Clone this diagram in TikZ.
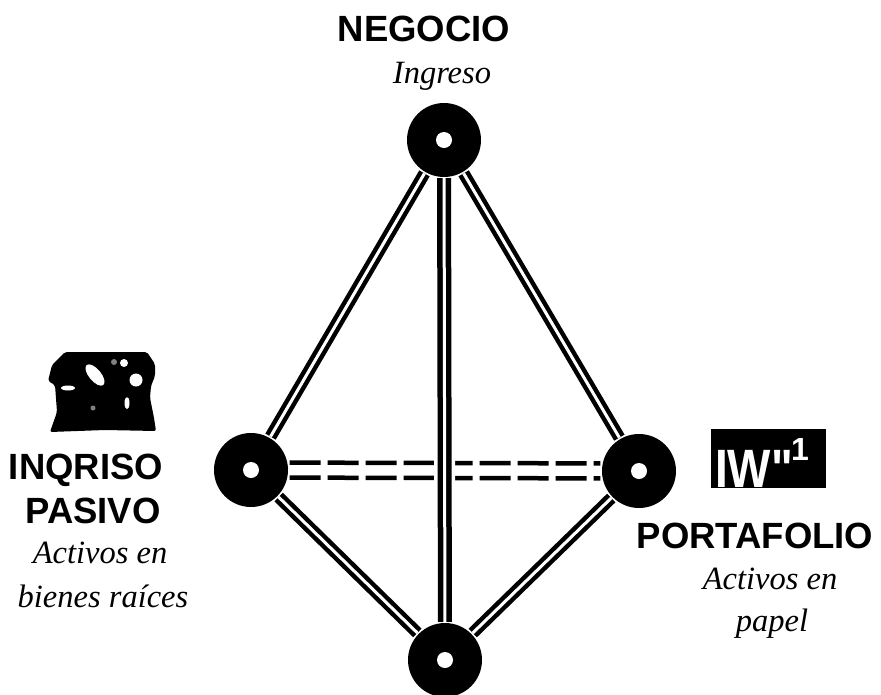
\documentclass[tikz,border=0pt]{standalone}
\usepackage{fontspec}
\setmainfont{Liberation Serif}
\newfontfamily\arialf{Liberation Sans}
\tikzset{
  hub/.style={circle,fill=black,minimum size=74pt,inner sep=0pt},
  hole/.style={fill=white},
  pairdiag/.style={draw=black,line width=4.5pt,double=white,double distance=3pt,shorten <=1.5pt,shorten >=1.5pt},
  pairvert/.style={draw=black,line width=5.5pt,double=white,double distance=3pt,shorten <=1pt,shorten >=1pt},
  halo/.style={draw=white,line width=21pt},
  dashline/.style={draw=black,line width=4.5pt,dash pattern=on 31pt off 7pt,shorten <=1.5pt,shorten >=1.5pt},
  head/.style={font=\arialf\bfseries\fontsize{36.5}{40}\selectfont,anchor=base,inner sep=0pt},
  note/.style={font=\itshape\fontsize{32.5}{36}\selectfont,anchor=base,inner sep=0pt}
}
\begin{document}
\begin{tikzpicture}[x=1pt,y=-1pt]
\useasboundingbox (0,0) rectangle (881,694);
\node[hub] (top) at (444,140) {};
\node[hub] (left) at (251,470) {};
\node[hub] (right) at (639,471) {};
\node[hub] (bottom) at (445,660) {};
\draw[dashline,transform canvas={yshift=7.5pt}] (left) -- (right);
\draw[dashline,transform canvas={yshift=-7.5pt}] (left) -- (right);
\draw[halo] (top) -- (bottom);
\draw[pairdiag] (top) -- (left);
\draw[pairdiag] (top) -- (right);
\draw[pairvert] (top) -- (bottom);
\draw[pairdiag] (left) -- (bottom);
\draw[pairdiag] (right) -- (bottom);
\foreach \n in {top,left,right,bottom} \fill[hole] (\n) circle (8);
\node[head] (negocio) at (424,41) {NEGOCIO};
\node[note] (ingreso) at (442,83) {Ingreso};
\node[head] (inqriso) at (86,479) {INQRISO};
\node[head] (pasivo) at (93,523) {PASIVO};
\node[note] (act1) at (100,563) {Activos en};
\node[note] (bienes) at (103,607) {bienes raíces};
\node[head] (portafolio) at (755,548) {PORTAFOLIO};
\node[note] (act2) at (770,589) {Activos en};
\node[note] (papel) at (772,631) {papel};
% black picture above the left label
\fill[black,rounded corners=2pt] (65,352) -- (147,352) -- (155,364) -- (155,376) -- (151,386) -- (150,398) -- (154,418) -- (156,431) -- (105,430) -- (50,432) -- (57,412) -- (55,385) -- (48,381) -- (52,365) -- cycle;
\fill[white,rotate around={-50:(95,375)}] (95,375) ellipse (13 and 6);
\fill[white] (136,380) circle (6.5);
\fill[white] (124,363) circle (4);
\fill[gray] (114,362) circle (3);
\fill[white] (68,388) ellipse (7 and 2.5);
\fill[white] (127,403) ellipse (2.5 and 6);
\fill[gray] (93,408) circle (2.5);
% white on black label
\node[fill=black,minimum width=115pt,minimum height=59pt,inner sep=0pt] (tag) at (768.5,458.5) {};
\node[font=\arialf\bfseries\fontsize{54}{54}\selectfont,text=white,anchor=base west,inner sep=0pt] (tagw) at (715,487) {\scalebox{.85}[1]{IW"}};
\node[font=\arialf\bfseries\fontsize{32}{32}\selectfont,text=white,anchor=base west,inner sep=0pt] (tagn) at (791,460) {1};
\end{tikzpicture}
\end{document}
